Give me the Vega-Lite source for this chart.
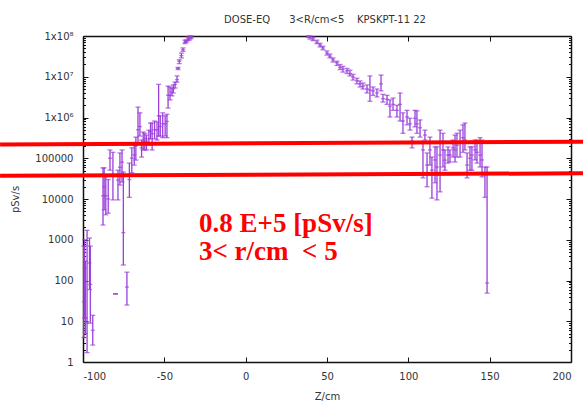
{
  "$schema": "https://vega.github.io/schema/vega-lite/v6.json",
  "width": 488,
  "height": 326,
  "autosize": {"type": "none"},
  "padding": {"left": 83, "top": 36, "right": 12, "bottom": 42},
  "background": "white",
  "title": {
    "text": "DOSE-EQ\u00a0\u00a0\u00a0\u00a0\u00a0\u00a03<R/cm<5\u00a0\u00a0\u00a0\u00a0KPSKPT-11 22",
    "font": "DejaVu Sans", "fontSize": 10, "fontWeight": "normal", "color": "#333",
    "anchor": "middle", "baseline": "alphabetic", "offset": -2, "dx": -2
  },
  "config": {
    "view": {"stroke": null},
    "axis": {
      "grid": false,
      "labelFont": "DejaVu Sans", "labelFontSize": 10, "labelColor": "#333",
      "titleFont": "DejaVu Sans", "titleFontSize": 10, "titleFontWeight": "normal", "titleColor": "#333",
      "domainColor": "#111", "domainWidth": 1.5, "tickColor": "#111", "tickWidth": 1
    }
  },
  "datasets": {
    "pts": [
      {"z": -99.5, "y": 30, "lo": 4, "hi": 700},
      {"z": -99, "y": 200, "lo": 12, "hi": 1000},
      {"z": -98.5, "y": 12, "lo": 5, "hi": 300},
      {"z": -97.5, "y": 9, "lo": 1.7, "hi": 1700},
      {"z": -96, "y": 270, "lo": 60, "hi": 1100},
      {"z": -95.5, "y": 80, "lo": 9, "hi": 700},
      {"z": -94, "y": 6, "lo": 2.6, "hi": 14},
      {"z": -87.7, "y": 12000, "lo": 2300, "hi": 58000},
      {"z": -87, "y": 20000, "lo": 5400, "hi": 58000},
      {"z": -86, "y": 12000, "lo": 4100, "hi": 35000},
      {"z": -84.5, "y": 10000, "lo": 4500, "hi": 30000},
      {"z": -83.4, "y": 100000, "lo": 51000, "hi": 160000},
      {"z": -81.6, "y": 40000, "lo": 9500, "hi": 140000},
      {"z": -80, "y": 47, "lo": 47, "hi": 47},
      {"z": -78.5, "y": 29000, "lo": 9500, "hi": 51000},
      {"z": -77.3, "y": 60000, "lo": 22000, "hi": 135000},
      {"z": -76, "y": 80000, "lo": 26000, "hi": 160000},
      {"z": -75.2, "y": 1500, "lo": 240, "hi": 46000},
      {"z": -73, "y": 69, "lo": 25, "hi": 160},
      {"z": -71.5, "y": 30000, "lo": 11000, "hi": 76000},
      {"z": -70, "y": 100000, "lo": 44000, "hi": 180000},
      {"z": -68.5, "y": 120000, "lo": 68000, "hi": 210000},
      {"z": -67.5, "y": 200000, "lo": 90000, "hi": 330000},
      {"z": -66.2, "y": 500000, "lo": 240000, "hi": 1800000},
      {"z": -65, "y": 600000, "lo": 350000, "hi": 1300000},
      {"z": -64, "y": 180000, "lo": 107000, "hi": 280000},
      {"z": -63, "y": 250000, "lo": 160000, "hi": 440000},
      {"z": -62, "y": 300000, "lo": 160000, "hi": 410000},
      {"z": -61, "y": 260000, "lo": 160000, "hi": 370000},
      {"z": -59.5, "y": 300000, "lo": 210000, "hi": 490000},
      {"z": -58.5, "y": 450000, "lo": 300000, "hi": 730000},
      {"z": -57.5, "y": 400000, "lo": 160000, "hi": 730000},
      {"z": -56, "y": 500000, "lo": 300000, "hi": 820000},
      {"z": -54.5, "y": 500000, "lo": 280000, "hi": 780000},
      {"z": -53.5, "y": 1100000, "lo": 350000, "hi": 6500000},
      {"z": -52.5, "y": 600000, "lo": 350000, "hi": 1100000},
      {"z": -51, "y": 700000, "lo": 320000, "hi": 1300000},
      {"z": -49.5, "y": 700000, "lo": 350000, "hi": 1100000},
      {"z": -48.4, "y": 800000, "lo": 320000, "hi": 1200000},
      {"z": -47.7, "y": 3500000, "lo": 1700000, "hi": 5900000},
      {"z": -46.5, "y": 3500000, "lo": 2700000, "hi": 5600000},
      {"z": -45.3, "y": 4200000, "lo": 3400000, "hi": 5300000},
      {"z": -44.5, "y": 5000000, "lo": 4000000, "hi": 6300000},
      {"z": -43.4, "y": 6500000, "lo": 5300000, "hi": 7400000},
      {"z": -42.2, "y": 8500000, "lo": 7400000, "hi": 10500000},
      {"z": -41.6, "y": 16000000, "lo": 15000000, "hi": 17000000},
      {"z": -40.8, "y": 24000000, "lo": 21000000, "hi": 26000000},
      {"z": -39.5, "y": 33000000, "lo": 29000000, "hi": 38000000},
      {"z": -38.5, "y": 46000000, "lo": 42000000, "hi": 51000000},
      {"z": -37.3, "y": 70000000, "lo": 65000000, "hi": 79000000},
      {"z": -36.5, "y": 75000000, "lo": 70000000, "hi": 80000000},
      {"z": -35.5, "y": 85000000, "lo": 77000000, "hi": 95000000},
      {"z": -34.5, "y": 90000000, "lo": 80000000, "hi": 100000000},
      {"z": -33.5, "y": 93000000, "lo": 86000000, "hi": 100000000},
      {"z": 38.5, "y": 98000000, "lo": 92000000, "hi": 100000000},
      {"z": 39.5, "y": 94000000, "lo": 84000000, "hi": 100000000},
      {"z": 41.4, "y": 85000000, "lo": 77000000, "hi": 94000000},
      {"z": 43.8, "y": 71000000, "lo": 65000000, "hi": 79000000},
      {"z": 45.7, "y": 60000000, "lo": 54000000, "hi": 66000000},
      {"z": 47.5, "y": 51000000, "lo": 46000000, "hi": 56000000},
      {"z": 50.0, "y": 38000000, "lo": 34000000, "hi": 43000000},
      {"z": 51.8, "y": 32000000, "lo": 29000000, "hi": 36000000},
      {"z": 53.7, "y": 26000000, "lo": 23000000, "hi": 29000000},
      {"z": 56.1, "y": 22000000, "lo": 19000000, "hi": 24000000},
      {"z": 58.0, "y": 17000000, "lo": 15000000, "hi": 20000000},
      {"z": 59.8, "y": 15500000, "lo": 13000000, "hi": 18000000},
      {"z": 62.3, "y": 14000000, "lo": 12000000, "hi": 16000000},
      {"z": 64.1, "y": 12000000, "lo": 10500000, "hi": 14500000},
      {"z": 66.0, "y": 9800000, "lo": 8300000, "hi": 11500000},
      {"z": 68.4, "y": 7900000, "lo": 6700000, "hi": 9200000},
      {"z": 70.3, "y": 6700000, "lo": 5600000, "hi": 7900000},
      {"z": 72.1, "y": 5900000, "lo": 5000000, "hi": 7000000},
      {"z": 74.6, "y": 5000000, "lo": 4000000, "hi": 6300000},
      {"z": 76.4, "y": 4700000, "lo": 2500000, "hi": 10500000},
      {"z": 78.3, "y": 4500000, "lo": 3500000, "hi": 5600000},
      {"z": 80.7, "y": 4000000, "lo": 3200000, "hi": 5000000},
      {"z": 83.2, "y": 6700000, "lo": 4500000, "hi": 11000000},
      {"z": 84.4, "y": 2900000, "lo": 2400000, "hi": 3700000},
      {"z": 86.9, "y": 2800000, "lo": 2100000, "hi": 3500000},
      {"z": 88.7, "y": 1900000, "lo": 1030000, "hi": 2700000},
      {"z": 90.6, "y": 2100000, "lo": 1500000, "hi": 3000000},
      {"z": 93.0, "y": 1500000, "lo": 1030000, "hi": 2000000},
      {"z": 94.9, "y": 2100000, "lo": 820000, "hi": 4000000},
      {"z": 96.7, "y": 820000, "lo": 410000, "hi": 1300000},
      {"z": 99.2, "y": 1030000, "lo": 660000, "hi": 1500000},
      {"z": 101.0, "y": 700000, "lo": 490000, "hi": 960000},
      {"z": 102.3, "y": 260000, "lo": 180000, "hi": 330000},
      {"z": 104.1, "y": 960000, "lo": 590000, "hi": 1500000},
      {"z": 105.3, "y": 700000, "lo": 410000, "hi": 1450000},
      {"z": 107.2, "y": 560000, "lo": 330000, "hi": 870000},
      {"z": 109.0, "y": 160000, "lo": 33000, "hi": 240000},
      {"z": 110.2, "y": 370000, "lo": 280000, "hi": 490000},
      {"z": 111.5, "y": 68000, "lo": 20000, "hi": 135000},
      {"z": 113.3, "y": 160000, "lo": 68000, "hi": 330000},
      {"z": 114.5, "y": 51000, "lo": 10500, "hi": 107000},
      {"z": 116.4, "y": 91000, "lo": 25000, "hi": 190000},
      {"z": 117.6, "y": 61000, "lo": 9500, "hi": 190000},
      {"z": 119.5, "y": 120000, "lo": 15000, "hi": 490000},
      {"z": 121.3, "y": 160000, "lo": 61000, "hi": 410000},
      {"z": 122.5, "y": 90000, "lo": 51000, "hi": 160000},
      {"z": 124.4, "y": 120000, "lo": 76000, "hi": 190000},
      {"z": 125.6, "y": 120000, "lo": 81000, "hi": 160000},
      {"z": 127.5, "y": 180000, "lo": 107000, "hi": 280000},
      {"z": 128.7, "y": 160000, "lo": 81000, "hi": 370000},
      {"z": 129.9, "y": 210000, "lo": 107000, "hi": 410000},
      {"z": 131.8, "y": 240000, "lo": 107000, "hi": 490000},
      {"z": 133.6, "y": 320000, "lo": 140000, "hi": 660000},
      {"z": 134.8, "y": 280000, "lo": 160000, "hi": 730000},
      {"z": 136.1, "y": 68000, "lo": 33000, "hi": 135000},
      {"z": 137.9, "y": 100000, "lo": 51000, "hi": 190000},
      {"z": 139.1, "y": 120000, "lo": 51000, "hi": 190000},
      {"z": 141.0, "y": 160000, "lo": 91000, "hi": 280000},
      {"z": 142.2, "y": 140000, "lo": 76000, "hi": 280000},
      {"z": 144.1, "y": 120000, "lo": 61000, "hi": 320000},
      {"z": 145.3, "y": 91000, "lo": 35000, "hi": 280000},
      {"z": 147.1, "y": 39000, "lo": 11000, "hi": 61000},
      {"z": 148.4, "y": 87, "lo": 49, "hi": 61000}
    ],
    "marks": [
      {"z": -151, "z2": 207.4, "v": 217000, "v2": 255000},
      {"z": -151, "z2": 207.4, "v": 37100, "v2": 42700}
    ],
    "notes": [
      {"z": -28.7, "v": 1577, "t": "0.8 E+5 [pSv/s]"},
      {"z": -28.7, "v": 318, "t": "3< r/cm\u00a0\u00a0< 5"}
    ]
  },
  "layer": [
    {
      "data": {"name": "pts"},
      "mark": {"type": "rule", "color": "#9a3fd9", "strokeWidth": 1.3},
      "encoding": {
        "x": {"field": "z", "type": "quantitative",
              "scale": {"domain": [-100, 200], "nice": false, "zero": false},
              "axis": {"orient": "bottom", "values": [-100, -50, 0, 50, 100, 150, 200], "tickSize": -5, "labelPadding": 14,
                       "labelExpr": "'' + datum.value",
                       "title": "Z/cm", "titleX": 244, "titleY": 37.5, "titleBaseline": "alphabetic", "titleAlign": "center", "titleAngle": 0}},
        "y": {"field": "lo", "type": "quantitative",
              "scale": {"type": "log", "domain": [1, 100000000], "nice": false},
              "axis": {"orient": "left", "values": [1, 10, 100, 1000, 10000, 100000, 1000000, 10000000, 100000000],
                       "tickSize": -5, "labelPadding": 15,
                       "labelExpr": "datum.value >= 1e8 ? '1x10⁸' : datum.value >= 1e7 ? '1x10⁷' : datum.value >= 1e6 ? '1x10⁶' : format(datum.value, 'd')",
                       "title": "pSv/s", "titleX": -68, "titleY": 163, "titleAngle": -90, "titleAlign": "center", "titleBaseline": "middle"}},
        "y2": {"field": "hi"}
      }
    },
    {
      "data": {"name": "pts"},
      "mark": {"type": "tick", "orient": "horizontal", "color": "#9a3fd9", "size": 5, "thickness": 1.3},
      "encoding": {
        "x": {"field": "z", "type": "quantitative",
              "scale": {"domain": [-100, 200], "nice": false, "zero": false},
              "axis": {"orient": "top", "values": [-100, -50, 0, 50, 100, 150, 200], "tickSize": -5, "labels": false, "title": null}},
        "y": {"field": "lo", "type": "quantitative",
              "scale": {"type": "log", "domain": [1, 100000000], "nice": false},
              "axis": {"orient": "right", "values": [1, 10, 100, 1000, 10000, 100000, 1000000, 10000000, 100000000],
                       "tickSize": -5, "labels": false, "title": null}}
      }
    },
    {
      "data": {"name": "pts"},
      "mark": {"type": "tick", "orient": "horizontal", "color": "#9a3fd9", "size": 5, "thickness": 1.3},
      "encoding": {
        "x": {"field": "z", "type": "quantitative",
              "scale": {"domain": [-100, 200], "nice": false, "zero": false}, "axis": null},
        "y": {"field": "hi", "type": "quantitative",
              "scale": {"type": "log", "domain": [1, 100000000], "nice": false},
              "axis": {"orient": "left", "domain": false, "labels": false, "title": null, "tickSize": -2.5,
                       "values": [2,3,4,5,6,7,8,9,20,30,40,50,60,70,80,90,200,300,400,500,600,700,800,900,2000,3000,4000,5000,6000,7000,8000,9000,20000,30000,40000,50000,60000,70000,80000,90000,200000,300000,400000,500000,600000,700000,800000,900000,2000000,3000000,4000000,5000000,6000000,7000000,8000000,9000000,20000000,30000000,40000000,50000000,60000000,70000000,80000000,90000000]}}
      }
    },
    {
      "data": {"name": "pts"},
      "mark": {"type": "tick", "orient": "horizontal", "color": "#9a3fd9", "size": 4, "thickness": 1.3},
      "encoding": {
        "x": {"field": "z", "type": "quantitative",
              "scale": {"domain": [-100, 200], "nice": false, "zero": false}, "axis": null},
        "y": {"field": "y", "type": "quantitative",
              "scale": {"type": "log", "domain": [1, 100000000], "nice": false},
              "axis": {"orient": "right", "domain": false, "labels": false, "title": null, "tickSize": -2.5,
                       "values": [2,3,4,5,6,7,8,9,20,30,40,50,60,70,80,90,200,300,400,500,600,700,800,900,2000,3000,4000,5000,6000,7000,8000,9000,20000,30000,40000,50000,60000,70000,80000,90000,200000,300000,400000,500000,600000,700000,800000,900000,2000000,3000000,4000000,5000000,6000000,7000000,8000000,9000000,20000000,30000000,40000000,50000000,60000000,70000000,80000000,90000000]}}
      }
    },
    {
      "data": {"name": "marks"},
      "mark": {"type": "rule", "color": "#ff0000", "strokeWidth": 4},
      "encoding": {
        "x": {"field": "z", "type": "quantitative",
              "scale": {"domain": [-100, 200], "nice": false, "zero": false}, "axis": null},
        "x2": {"field": "z2"},
        "y": {"field": "v", "type": "quantitative",
              "scale": {"type": "log", "domain": [1, 100000000], "nice": false}, "axis": null},
        "y2": {"field": "v2"}
      }
    },
    {
      "data": {"name": "notes"},
      "mark": {"type": "text", "color": "#ff0000", "font": "Liberation Serif", "fontSize": 27, "fontWeight": "bold", "align": "left", "baseline": "alphabetic"},
      "encoding": {
        "x": {"field": "z", "type": "quantitative",
              "scale": {"domain": [-100, 200], "nice": false, "zero": false}, "axis": null},
        "y": {"field": "v", "type": "quantitative",
              "scale": {"type": "log", "domain": [1, 100000000], "nice": false}, "axis": null},
        "text": {"field": "t"}
      }
    }
  ],
  "resolve": {"axis": {"x": "independent", "y": "independent"}}
}
